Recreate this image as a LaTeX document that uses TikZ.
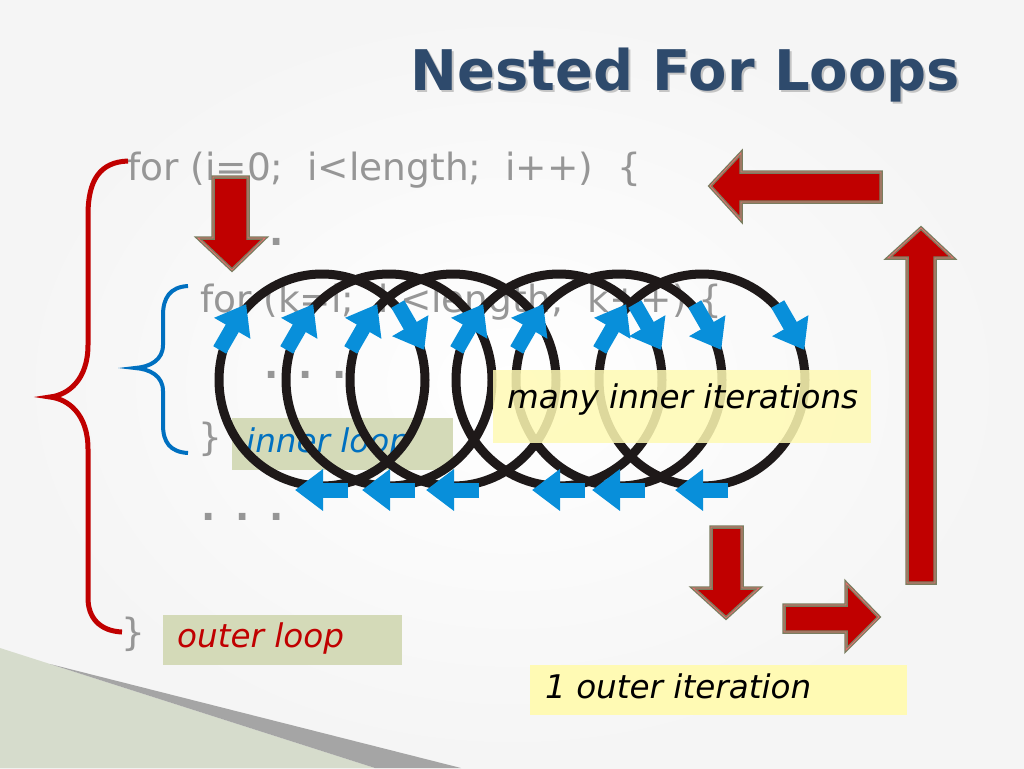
\documentclass[tikz,border=0pt]{standalone}
\usepackage{fontspec}
\setmainfont{DejaVu Sans}
\usetikzlibrary{arrows.meta}
\definecolor{titleblue}{RGB}{46,74,108}
\definecolor{codegray}{RGB}{150,150,150}
\definecolor{bracered}{RGB}{192,0,0}
\definecolor{braceblue}{RGB}{0,112,192}
\definecolor{arrowred}{RGB}{192,0,0}
\definecolor{arrowrim}{RGB}{122,126,96}
\definecolor{arrowlite}{RGB}{232,110,110}
\definecolor{ringblack}{RGB}{30,25,25}
\definecolor{tipblue}{RGB}{8,143,218}
\definecolor{greenbox}{RGB}{212,218,184}
\definecolor{yellowbox}{RGB}{255,250,180}
\definecolor{decolight}{RGB}{214,220,204}
\definecolor{decodark}{RGB}{165,165,165}
\tikzset{
  codetext/.style={text=codegray, font=\fontsize{37.5}{40}\selectfont, inner sep=0pt, anchor=base west},
  dotstext/.style={codetext, font=\bfseries\fontsize{37.5}{40}\selectfont},
  labeltext/.style={font=\itshape\fontsize{32.6}{36}\selectfont, inner sep=0pt, anchor=base west},
  blockarrow/.style={fill=arrowred, draw=arrowrim, line width=3.5pt,
    postaction={draw=arrowlite, line width=0.8pt}},
  loopring/.style={draw=ringblack, line width=9pt},
  ringtip/.style={draw=tipblue, line width=15pt, -{Triangle[length=28pt, width=40pt]}},
}
\begin{document}
\begin{tikzpicture}[x=1pt, y=-1pt]
    \useasboundingbox (0,0) rectangle (1024,768);
    \shade [inner color=white, outer color=black!4] (0,0) rectangle (1024,768);
    % corner decoration
    \fill [decolight] (0,648) -- (375,768) -- (0,768) -- cycle;
    \fill [decodark] (50,664) -- (461,768) -- (375,768) -- cycle;
    % title
    \node [anchor=base west, inner sep=0pt, text=black, opacity=0.2,
        font=\bfseries\fontsize{56}{60}\selectfont] (titleshadow) at (412,92) {Nested For Loops};
    \node [anchor=base west, inner sep=0pt, text=titleblue,
        font=\bfseries\fontsize{56}{60}\selectfont] (title) at (410,90) {Nested For Loops};
    % code
    \node [codetext] (outerfor) at (127,180) {for (i=0;\ \ i<length;\ \ i++)\ \ \{};
    \node [dotstext] (dotsa) at (201,245) {.\hspace{20pt}.\hspace{20pt}.};
    \node [codetext] (innerfor) at (200,312) {for (k=i;\ \ k<length;\ \ k++)\ \{};
    \node [dotstext] (dotsb) at (264,378) {.\hspace{20pt}.\hspace{20pt}.};
    \node [codetext] (innerclose) at (198,450) {\}};
    \node [dotstext] (dotsc) at (201,520) {.\hspace{20pt}.\hspace{20pt}.};
    \node [codetext] (outerclose) at (121,645) {\}};
    % inner loop label, under the rings
    \fill [greenbox] (232,418) rectangle (453,470);
    \node [labeltext, text=braceblue] (innerlabel) at (246,452) {inner loop};
    % braces
    \draw [bracered, line width=5pt]
        (128,161) .. controls (100,162) and (88,180) .. (88,215)
        -- (88,345) .. controls (88,380) and (68,395) .. (50,397)
        .. controls (68,399) and (88,414) .. (88,449)
        -- (88,598) .. controls (88,618) and (100,631) .. (122,632);
    \draw [braceblue, line width=4pt]
        (188,286) .. controls (170,287) and (163,298) .. (163,315)
        -- (163,345) .. controls (163,360) and (150,367) .. (135,368)
        .. controls (150,369) and (163,376) .. (163,391)
        -- (163,425) .. controls (163,442) and (170,452) .. (188,453);
    % block arrows
    \draw [blockarrow] (213,177) -- (248,177) -- (248,238) -- (265,238) -- (232,270) -- (198,238) -- (213,238) -- cycle;
    \draw [blockarrow] (881,172) -- (881,202) -- (741,202) -- (741,220) -- (710,186) -- (741,153) -- (741,172) -- cycle;
    \draw [blockarrow] (907,583) -- (935,583) -- (935,258) -- (953,258) -- (921,228) -- (888,258) -- (907,258) -- cycle;
    \draw [blockarrow] (711,527) -- (742,527) -- (742,588) -- (759,588) -- (726,618) -- (693,588) -- (711,588) -- cycle;
    \draw [blockarrow] (784,605) -- (846,605) -- (846,583) -- (879,617) -- (846,650) -- (846,632) -- (784,632) -- cycle;
    % rings
    \foreach \cx in {322, 389, 453, 559, 619, 702}
        \draw [loopring] (\cx,380) ellipse [x radius=103pt, y radius=106pt];
    \foreach \cx/\dn in {322/1, 389/0, 453/0, 559/1, 619/1, 702/1} {
        \begin{scope}[shift={(\cx,380)}]
            \draw [ringtip] (-102.25,-30.05) -- (-75.75,-75.95);
            \ifnum\dn=1
                \draw [ringtip] (75.75,-75.95) -- (102.25,-30.05);
            \fi
            \draw [ringtip] (26,110) -- (-27,110);
        \end{scope}
    }
    % labels
    \fill [yellowbox, fill opacity=0.85] (493,370) rectangle (871,443);
    \node [labeltext] (manylabel) at (507,408) {many inner iterations};
    \fill [greenbox] (163,615) rectangle (402,665);
    \node [labeltext, text=bracered] (outerlabel) at (177,647) {outer loop};
    \fill [yellowbox] (530,665) rectangle (907,715);
    \node [labeltext] (onelabel) at (545,698) {1 outer iteration};
\end{tikzpicture}
\end{document}
